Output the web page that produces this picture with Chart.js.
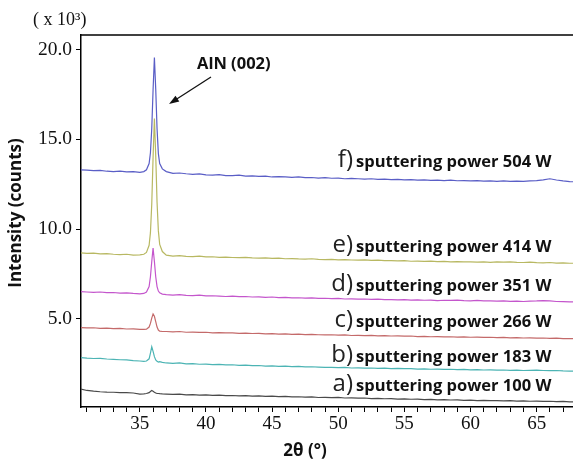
<!DOCTYPE html>
<html>
<head>
<meta charset="utf-8">
<script src="https://cdn.jsdelivr.net/npm/chart.js@4.4.1/dist/chart.umd.min.js"></script>
<style>
  html, body { margin: 0; padding: 0; background: #fff; }
  #wrap { width: 573px; height: 465px; position: relative; }
</style>
</head>
<body>
<div id="wrap"><canvas id="xrd"></canvas></div>
<script>
// 2-theta positions, denser around the AlN (002) reflection
var twoTheta = [
  30.5, 31, 31.5, 32, 32.5, 33, 33.5, 34, 34.5, 35,
  35.3, 35.5, 35.7, 35.8, 35.9, 36.0, 36.1, 36.2, 36.3, 36.4, 36.5, 36.7, 37,
  37.5, 38, 38.5, 39, 39.5, 40, 40.5, 41, 41.5, 42,
  42.5, 43, 43.5, 44, 44.5, 45, 45.5, 46, 46.5, 47,
  47.5, 48, 48.5, 49, 49.5, 50, 50.5, 51, 51.5, 52,
  52.5, 53, 53.5, 54, 54.5, 55, 55.5, 56, 56.5, 57,
  57.5, 58, 58.5, 59, 59.5, 60, 60.5, 61, 61.5, 62,
  62.5, 63, 63.5, 64, 64.5, 65, 65.5, 66, 66.5, 67,
  67.5, 68
];

// intensities in units of 10^3 counts
var power100 = [
  1.1, 1.02, 0.98, 0.95, 0.93, 0.92, 0.9, 0.9, 0.88, 0.82,
  0.83, 0.85, 0.9, 0.96, 1.02, 0.98, 0.92, 0.88, 0.86, 0.85, 0.84, 0.83, 0.82,
  0.8, 0.82, 0.78, 0.79, 0.76, 0.77, 0.75, 0.76, 0.73, 0.74,
  0.72, 0.73, 0.71, 0.72, 0.69, 0.7, 0.68, 0.69, 0.66, 0.67,
  0.65, 0.66, 0.63, 0.64, 0.62, 0.63, 0.6, 0.61, 0.59, 0.6,
  0.57, 0.58, 0.56, 0.57, 0.54, 0.55, 0.53, 0.54, 0.51, 0.52,
  0.5, 0.51, 0.49, 0.5, 0.47, 0.48, 0.46, 0.47, 0.45, 0.46,
  0.44, 0.45, 0.43, 0.44, 0.42, 0.43, 0.41, 0.42, 0.4, 0.41,
  0.39, 0.38
];
var power183 = [
  2.85, 2.82, 2.8, 2.81, 2.77, 2.75, 2.73, 2.72, 2.68, 2.66,
  2.64, 2.66, 2.78, 3.1, 3.45, 3.2, 2.9, 2.72, 2.64, 2.6, 2.62, 2.58, 2.55,
  2.53, 2.55, 2.5, 2.51, 2.48, 2.49, 2.46, 2.47, 2.44, 2.45,
  2.42, 2.43, 2.4, 2.41, 2.38, 2.39, 2.36, 2.37, 2.35, 2.36,
  2.33, 2.34, 2.32, 2.3, 2.31, 2.29, 2.3, 2.27, 2.28, 2.26,
  2.27, 2.25, 2.26, 2.24, 2.25, 2.23, 2.24, 2.21, 2.22, 2.2,
  2.21, 2.19, 2.2, 2.18, 2.19, 2.17, 2.18, 2.16, 2.17, 2.15,
  2.16, 2.14, 2.15, 2.13, 2.14, 2.15, 2.13, 2.12, 2.13, 2.11,
  2.1, 2.09
];
var power266 = [
  4.52, 4.5, 4.51, 4.48, 4.49, 4.46, 4.47, 4.44, 4.45, 4.42,
  4.42, 4.43, 4.55, 4.75, 5.05, 5.28, 5.15, 4.85, 4.55, 4.38, 4.32, 4.3, 4.3,
  4.28, 4.3, 4.26, 4.27, 4.25, 4.26, 4.23, 4.24, 4.22, 4.23,
  4.2, 4.21, 4.19, 4.2, 4.17, 4.18, 4.16, 4.17, 4.14, 4.15,
  4.13, 4.14, 4.12, 4.11, 4.12, 4.1, 4.11, 4.08, 4.09, 4.07,
  4.08, 4.06, 4.07, 4.05, 4.06, 4.04, 4.05, 4.02, 4.03, 4.01,
  4.02, 4.0, 4.01, 3.99, 4.0, 3.98, 3.99, 3.97, 3.98, 3.96,
  3.97, 3.95, 3.96, 3.94, 3.95, 3.93, 3.94, 3.92, 3.93, 3.91,
  3.91, 3.9
];
var power351 = [
  6.52, 6.5, 6.48, 6.5, 6.46, 6.47, 6.44, 6.45, 6.42, 6.4,
  6.42, 6.5, 6.8, 7.35, 8.2, 8.95, 8.2, 7.35, 6.8, 6.55, 6.45, 6.38, 6.35,
  6.33, 6.35, 6.31, 6.3, 6.32, 6.28, 6.29, 6.27, 6.25, 6.27,
  6.24, 6.25, 6.22, 6.23, 6.2, 6.22, 6.19, 6.2, 6.17, 6.18,
  6.16, 6.17, 6.14, 6.15, 6.13, 6.14, 6.11, 6.12, 6.1, 6.11,
  6.09, 6.1, 6.07, 6.08, 6.06, 6.07, 6.05, 6.06, 6.04, 6.05,
  6.02, 6.04, 6.03, 6.05, 6.02, 6.01, 6.03, 6.0, 6.01, 5.99,
  6.0, 5.98, 5.99, 5.97, 5.99, 6.0, 6.02, 6.0, 5.97, 5.96,
  5.95, 5.94
];
var power414 = [
  8.68, 8.65, 8.66, 8.62, 8.63, 8.6, 8.58, 8.6, 8.55, 8.56,
  8.6, 8.7, 9.1, 9.8, 11.4, 14.0, 16.15, 14.1, 11.5, 9.9, 9.15, 8.75, 8.55,
  8.5, 8.52, 8.48, 8.47, 8.49, 8.45, 8.46, 8.43, 8.44, 8.42,
  8.41, 8.43, 8.4, 8.38, 8.4, 8.37, 8.38, 8.35, 8.36, 8.34,
  8.33, 8.35, 8.32, 8.3, 8.32, 8.29, 8.3, 8.28, 8.27, 8.29,
  8.26, 8.27, 8.24, 8.25, 8.23, 8.24, 8.21, 8.22, 8.2, 8.22,
  8.19, 8.2, 8.18, 8.19, 8.17, 8.18, 8.16, 8.17, 8.15, 8.17,
  8.16, 8.18, 8.15, 8.14, 8.16, 8.13, 8.12, 8.14, 8.11, 8.12,
  8.1, 8.1
];
var power504 = [
  13.3, 13.28, 13.25, 13.27, 13.22, 13.2, 13.22, 13.18, 13.2, 13.16,
  13.2, 13.3, 13.65, 14.25, 15.6, 17.75, 19.55, 17.8, 15.6, 14.2, 13.65, 13.35, 13.2,
  13.1, 13.12, 13.08, 13.05, 13.07, 13.02, 13.0, 13.03, 12.98, 12.97,
  13.0, 12.95, 12.96, 12.93, 12.95, 12.9, 12.92, 12.9, 12.88, 12.9,
  12.86, 12.87, 12.84, 12.86, 12.83, 12.84, 12.8, 12.82, 12.8, 12.78,
  12.8, 12.77, 12.78, 12.75, 12.77, 12.74, 12.75, 12.72, 12.74, 12.71,
  12.72, 12.7, 12.72, 12.69, 12.7, 12.68, 12.7, 12.67, 12.68, 12.66,
  12.68, 12.65, 12.67, 12.66, 12.68, 12.7, 12.74, 12.8, 12.73, 12.68,
  12.64, 12.63
];

var seriesNames = ['a)', 'b)', 'c)', 'd)', 'e)', 'f)'];
var powers = ['100', '183', '266', '351', '414', '504'];
var seriesData = [power100, power183, power266, power351, power414, power504];
var colors = ['#4a4a4a', '#4cb4b4', '#c46a6a', '#c456cc', '#b8b862', '#5a5ec6'];

var yTicks = [5, 10, 15, 20];
var xTicks = [];
for (var t = 31; t <= 67; t++) xTicks.push(t);

// where each sample caption sits (baseline y in px)
var captionY = [391, 362, 327, 291, 252, 167];

function pairs(ys) {
  return twoTheta.map(function (x, i) { return { x: x, y: ys[i] }; });
}

var datasets = seriesData.map(function (ys, i) {
  return {
    label: seriesNames[i] + ' sputtering power ' + powers[i] + ' W',
    data: pairs(ys),
    borderColor: colors[i],
    borderWidth: 1.2,
    pointRadius: 0,
    tension: 0,
    fill: false
  };
});

const annotate = {
  id: 'annotate',
  afterDraw(chart) {
    const ctx = chart.ctx;
    const area = chart.chartArea;
    ctx.save();

    // top frame line
    ctx.strokeStyle = '#000';
    ctx.lineWidth = 1.5;
    ctx.beginPath();
    ctx.moveTo(area.left, area.top);
    ctx.lineTo(area.right, area.top);
    ctx.stroke();

    ctx.fillStyle = '#111';
    ctx.textBaseline = 'alphabetic';

    // multiplier
    ctx.font = '18px "Liberation Serif"';
    ctx.textAlign = 'left';
    ctx.fillText('( x 10\u00b3)', 33, 25);

    // curve captions
    for (let i = 0; i < seriesNames.length; i++) {
      ctx.font = '24px "Open Sans"';
      ctx.textAlign = 'right';
      ctx.fillStyle = '#222';
      ctx.fillText(seriesNames[i], 353, captionY[i]);
      ctx.font = 'bold 16.5px "Open Sans"';
      ctx.textAlign = 'left';
      ctx.fillStyle = '#111';
      ctx.fillText('sputtering power ' + powers[i] + ' W', 356, captionY[i]);
    }

    // peak label with arrow
    ctx.font = 'bold 16.5px "Open Sans"';
    ctx.textAlign = 'left';
    ctx.fillText('AlN (002)', 197, 69);
    const x0 = 211, y0 = 77, x1 = 169, y1 = 104;
    const ang = Math.atan2(y1 - y0, x1 - x0);
    ctx.strokeStyle = '#111';
    ctx.lineWidth = 1.3;
    ctx.beginPath();
    ctx.moveTo(x0, y0);
    ctx.lineTo(x1 - 6 * Math.cos(ang), y1 - 6 * Math.sin(ang));
    ctx.stroke();
    ctx.beginPath();
    ctx.moveTo(x1, y1);
    ctx.lineTo(x1 - 10 * Math.cos(ang) + 3.5 * Math.sin(ang), y1 - 10 * Math.sin(ang) - 3.5 * Math.cos(ang));
    ctx.lineTo(x1 - 10 * Math.cos(ang) - 3.5 * Math.sin(ang), y1 - 10 * Math.sin(ang) + 3.5 * Math.cos(ang));
    ctx.closePath();
    ctx.fill();

    // axis titles
    ctx.font = 'bold 17px "Open Sans"';
    ctx.textAlign = 'center';
    ctx.textBaseline = 'middle';
    ctx.fillText('2\u03b8 (\u00b0)', 305, 451);
    ctx.translate(16, 213);
    ctx.rotate(-Math.PI / 2);
    ctx.fillText('Intensity (counts)', 0, 0);

    ctx.restore();
  }
};

new Chart(document.getElementById('xrd'), {
  type: 'line',
  data: { datasets: datasets },
  options: {
    responsive: true,
    maintainAspectRatio: false,
    animation: false,
    layout: { padding: { top: 35, right: 0, left: 0, bottom: 0 } },
    plugins: { legend: { display: false }, tooltip: { enabled: false } },
    scales: {
      x: {
        type: 'linear',
        min: 30.55,
        max: 67.75,
        afterBuildTicks: function (scale) {
          scale.ticks = xTicks.map(function (v) { return { value: v }; });
        },
        afterFit: function (scale) { scale.height = 58; },
        ticks: {
          autoSkip: false,
          maxRotation: 0,
          padding: 1,
          color: '#111',
          font: { family: 'Liberation Serif', size: 19 },
          callback: function (v) { return v % 5 === 0 ? String(v) : ''; }
        },
        grid: { drawOnChartArea: false, drawTicks: true, tickLength: 5, tickColor: '#000', tickWidth: 1 },
        border: { color: '#000', width: 1.5 }
      },
      y: {
        type: 'linear',
        min: 0.1,
        max: 20.8,
        afterBuildTicks: function (scale) {
          scale.ticks = yTicks.map(function (v) { return { value: v }; });
        },
        afterFit: function (scale) { scale.width = 81; },
        ticks: {
          padding: 4,
          color: '#111',
          font: { family: 'Liberation Serif', size: 19.5 },
          callback: function (v) { return v.toFixed(1); }
        },
        grid: { drawOnChartArea: false, drawTicks: true, tickLength: 5, tickColor: '#000', tickWidth: 1 },
        border: { color: '#000', width: 1.5 }
      }
    }
  },
  plugins: [annotate]
});
</script>
</body>
</html>
